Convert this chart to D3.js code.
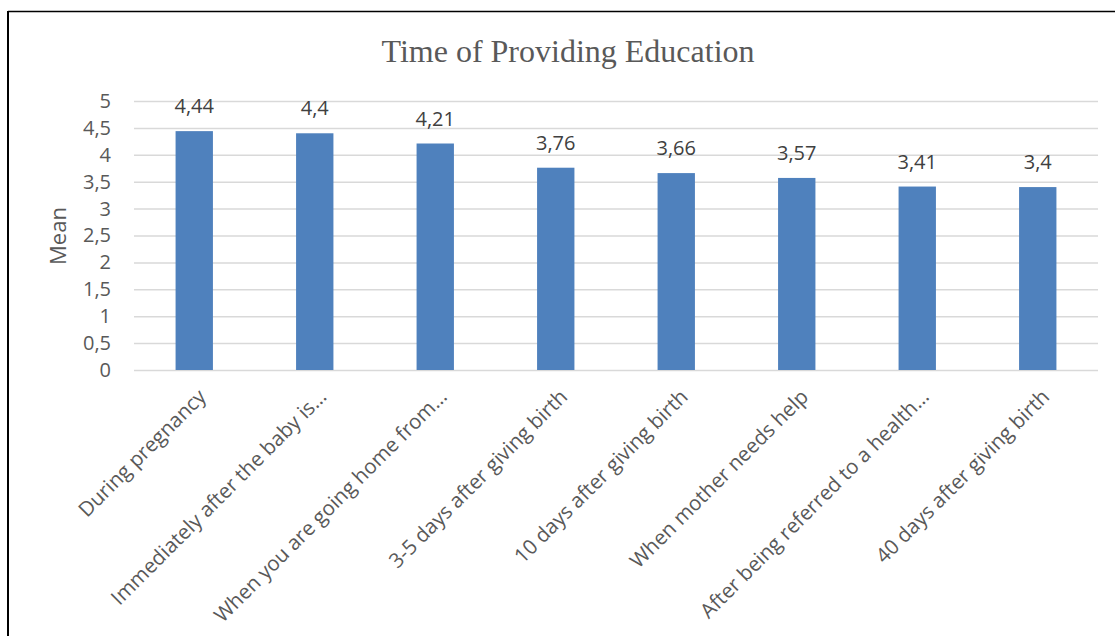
<!DOCTYPE html>
<html><head><meta charset="utf-8">
<script src="https://cdn.jsdelivr.net/npm/d3@7"></script>
<style>html,body{margin:0;padding:0;background:#fff;}svg{display:block;}</style>
</head><body>
<svg id="chart" width="1115" height="636"></svg>
<script>
const title = "Time of Providing Education";
const categories = ["During pregnancy","Immediately after the baby is…","When you are going home from…","3-5 days after giving birth","10 days after giving birth","When mother needs help","After being referred to a health…","40 days after giving birth"];
const values = [4.44, 4.4, 4.21, 3.76, 3.66, 3.57, 3.41, 3.4];
const yTicks = [0,0.5,1,1.5,2,2.5,3,3.5,4,4.5,5];
const yLabel = "Mean";

const svg = d3.select("#chart");
const m = {left:134, right:1098, top:101, bottom:370};
const x = d3.scaleBand().domain(categories).range([m.left, m.right]).paddingInner(0.69).paddingOuter(0.345);
const y = d3.scaleLinear().domain([0,5]).range([m.bottom, m.top]);
const fmt = v => String(v).replace(".", ",");
const txt = "#595959";
const font = "'Open Sans', sans-serif";

// frame
svg.append("line").attr("x1",8).attr("x2",1115).attr("y1",11.5).attr("y2",11.5).attr("stroke","#000").attr("stroke-width",1.5);
svg.append("line").attr("x1",8).attr("x2",8).attr("y1",11).attr("y2",636).attr("stroke","#000").attr("stroke-width",2);

// title
svg.append("text").attr("x",568).attr("y",62).attr("text-anchor","middle")
  .attr("font-family","'Liberation Serif', 'Times New Roman', serif").attr("font-size",32).attr("fill",txt).text(title);

// gridlines
const yAxis = d3.axisLeft(y).tickValues(yTicks).tickSize(-(m.right-m.left)).tickFormat(fmt).tickPadding(23);
const ga = svg.append("g").attr("transform",`translate(${m.left},0)`).call(yAxis);
ga.select(".domain").remove();
ga.selectAll(".tick line").attr("stroke","#d9d9d9").attr("stroke-width",1.5);
ga.selectAll(".tick text").attr("font-family",font).attr("font-size",20).attr("fill",txt);

// bars
svg.append("g").selectAll("rect").data(values).join("rect")
  .attr("x",(d,i)=>x(categories[i])).attr("width",x.bandwidth())
  .attr("y",d=>y(d)).attr("height",d=>y(0)-y(d)).attr("fill","#4f81bd");

// data labels
svg.append("g").selectAll("text").data(values).join("text")
  .attr("x",(d,i)=>x(categories[i])+x.bandwidth()/2).attr("y",d=>y(d)-18)
  .attr("text-anchor","middle").attr("font-family",font).attr("font-size",20).attr("fill","#404040").text(fmt);

// x labels
const xAxis = d3.axisBottom(x).tickSize(0).tickPadding(0);
const gx = svg.append("g").attr("transform",`translate(0,${m.bottom})`).call(xAxis);
gx.select(".domain").remove();
gx.selectAll(".tick text").attr("font-family",font).attr("font-size",20.5).attr("fill",txt)
  .attr("text-anchor","end").attr("dy",null).attr("y",null)
  .attr("transform","translate(13,28) rotate(-45)");

// y label
svg.append("text").attr("transform","translate(66,236) rotate(-90)").attr("text-anchor","middle")
  .attr("font-family",font).attr("font-size",22).attr("fill",txt).text(yLabel);
</script>
</body></html>
